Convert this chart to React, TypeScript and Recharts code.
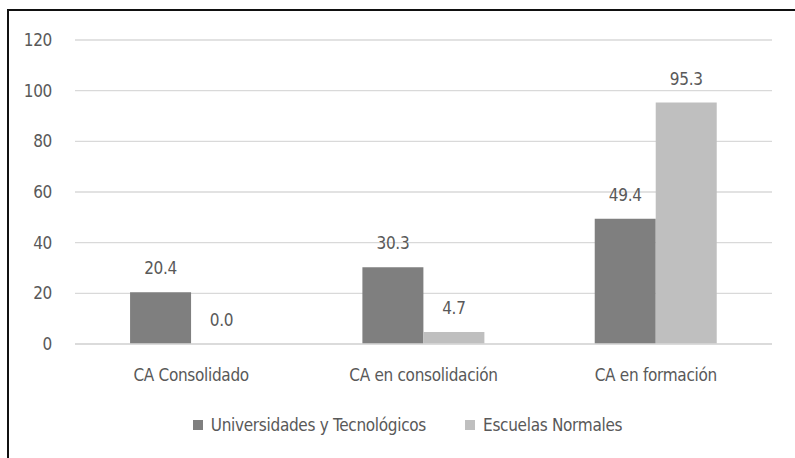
import React from 'react';
import { BarChart, Bar, XAxis, YAxis, CartesianGrid, LabelList } from 'recharts';

const categories = ['CA Consolidado', 'CA en consolidación', 'CA en formación'];
const universidades = [20.4, 30.3, 49.4];
const normales = [0.0, 4.7, 95.3];
const yTicks = [0, 20, 40, 60, 80, 100, 120];

const SERIES = [
  { key: 'universidades', name: 'Universidades y Tecnológicos', color: '#7f7f7f' },
  { key: 'normales', name: 'Escuelas Normales', color: '#bfbfbf' },
];

const FONT = '"DejaVu Sans Condensed", "DejaVu Sans", sans-serif';
const TEXT = '#595959';
const FS = 17;
const LS = -0.3;

const data = categories.map((cat, i) => ({
  cat,
  universidades: universidades[i],
  normales: normales[i],
}));

function LegendBox() {
  return (
    <div
      style={{
        position: 'absolute',
        left: 0,
        top: 415,
        width: 795,
        display: 'flex',
        justifyContent: 'center',
        alignItems: 'center',
        paddingLeft: 20,
        boxSizing: 'border-box',
        fontFamily: FONT,
        fontSize: FS,
        letterSpacing: LS,
        color: TEXT,
      }}
    >
      {SERIES.map((s, i) => (
        <div key={s.key} style={{ display: 'flex', alignItems: 'center', marginLeft: i === 0 ? 0 : 39 }}>
          <span style={{ width: 10, height: 10, background: s.color, display: 'inline-block', marginRight: 8 }} />
          <span>{s.name}</span>
        </div>
      ))}
    </div>
  );
}

export default function App() {
  return (
    <div style={{ position: 'absolute', left: 0, top: 0, width: 795, height: 458, background: '#fff' }}>
      <style>{`svg text { letter-spacing: ${LS}px; }`}</style>
      <div
        style={{
          position: 'absolute',
          left: 7,
          top: 9,
          right: 0,
          bottom: 0,
          borderTop: '2px solid #111',
          borderLeft: '2px solid #111',
        }}
      />
      <div style={{ position: 'absolute', left: 0, top: 0 }}>
        <BarChart
          width={795}
          height={458}
          data={data}
          margin={{ top: 40, right: 23, bottom: 84, left: 0 }}
          barCategoryGap="23.7%"
          barGap={0}
        >
          <CartesianGrid vertical={false} stroke="#d9d9d9" strokeWidth={1.3} />
          <XAxis
            dataKey="cat"
            height={30}
            axisLine={{ stroke: '#d9d9d9', strokeWidth: 1.3 }}
            tickLine={false}
            tickSize={6}
            tickMargin={19}
            tick={{ fill: TEXT, fontSize: FS, fontFamily: FONT }}
          />
          <YAxis
            width={75}
            domain={[0, 120]}
            ticks={yTicks}
            axisLine={false}
            tickLine={false}
            tickSize={6}
            tickMargin={17}
            tick={{ fill: TEXT, fontSize: FS, fontFamily: FONT }}
          />
          {SERIES.map((s) => (
            <Bar
              key={s.key}
              dataKey={s.key}
              name={s.name}
              fill={s.color}
              minPointSize={0.1}
              isAnimationActive={false}
            >
              <LabelList
                dataKey={s.key}
                position="top"
                offset={18}
                formatter={(v: any) => Number(v).toFixed(1)}
                style={{ fill: TEXT, fontSize: FS, fontFamily: FONT }}
              />
            </Bar>
          ))}
        </BarChart>
      </div>
      <LegendBox />
    </div>
  );
}
